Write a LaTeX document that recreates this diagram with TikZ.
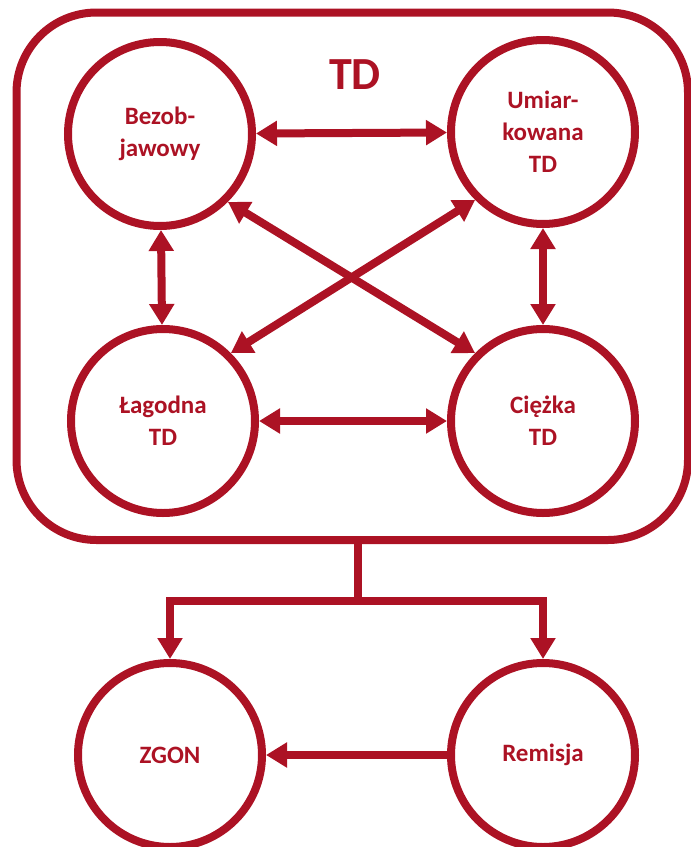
\documentclass[tikz,border=0pt]{standalone}
\usepackage{fontspec}
\setmainfont{Carlito}
\usetikzlibrary{arrows.meta, positioning}
\definecolor{tdred}{RGB}{172,18,36}
\tikzset{
    stan/.style={circle, draw=tdred, line width=8pt, minimum size=184pt, inner sep=0pt,
        text=tdred, align=center, font=\bfseries\fontsize{25}{32}\selectfont},
    link/.style={draw=tdred, line width=8pt, -{Triangle[length=21pt, width=24pt]}},
    both/.style={link, {Triangle[length=21pt, width=24pt]}-{Triangle[length=21pt, width=24pt]}}
}

\begin{document}
\begin{tikzpicture}[x=1pt, y=-1pt]
    \useasboundingbox (0,0) rectangle (691,847);

    % Frame of the TD group
    \node[draw=tdred, line width=8pt, rounded corners=80pt, minimum width=671.5pt,
        minimum height=527.5pt, inner sep=0pt] (td) at (352.25,276.25) {};
    \node[text=tdred, font=\bfseries\fontsize{46}{50}\selectfont] (tytul) at (355,75) {TD};

    % States
    \node[stan] (bezob) at (160,134) {Bezob-\\jawowy};
    \node[stan] (umiar) at (543,132) {Umiar-\\kowana\\TD};
    \node[stan] (lagod) at (163,421) {Łagodna\\TD};
    \node[stan] (ciezk) at (543,421) {Ciężka\\TD};
    \node[stan] (zgon) at (170,755) {ZGON};
    \node[stan] (remis) at (543,755) {Remisja};

    % Transitions inside TD
    \draw[both] (bezob) -- (umiar);
    \draw[both] (lagod) -- (ciezk);
    \draw[both] (bezob) -- (lagod);
    \draw[both] (umiar) -- (ciezk);
    \draw[both] (bezob.-45) -- (ciezk.135);
    \draw[both] (umiar.-135) -- (lagod.45);

    % Exits
    \coordinate (split) at (358,601);
    \draw[draw=tdred, line width=8pt] (split |- td.south) -- (split);
    \draw[link] (split) -| (zgon.north);
    \draw[link] (split) -| (remis.north);
    \draw[link] (remis) -- (zgon);
\end{tikzpicture}
\end{document}
